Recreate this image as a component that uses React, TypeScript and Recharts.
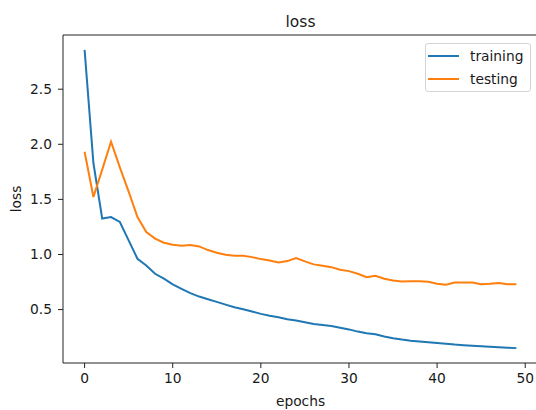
import { LineChart, Line, XAxis, YAxis, Legend, ReferenceLine } from "recharts";

const epochs = [
  0, 1, 2, 3, 4, 5, 6, 7, 8, 9, 10, 11, 12, 13, 14, 15, 16, 17, 18, 19, 20, 21, 22, 23, 24,
  25, 26, 27, 28, 29, 30, 31, 32, 33, 34, 35, 36, 37, 38, 39, 40, 41, 42, 43, 44, 45, 46, 47, 48, 49,
];

const training = [
  2.857, 1.83, 1.326, 1.34, 1.295, 1.128, 0.961, 0.9, 0.825, 0.78,
  0.728, 0.688, 0.649, 0.618, 0.594, 0.57, 0.545, 0.521, 0.503, 0.482,
  0.461, 0.443, 0.43, 0.412, 0.4, 0.385, 0.37, 0.36, 0.35, 0.335,
  0.32, 0.3, 0.285, 0.275, 0.255, 0.24, 0.228, 0.218, 0.21, 0.203,
  0.197, 0.19, 0.182, 0.177, 0.172, 0.168, 0.163, 0.158, 0.154, 0.15,
];

const testing = [
  1.932, 1.522, 1.77, 2.023, 1.79, 1.57, 1.34, 1.204, 1.144, 1.107,
  1.089, 1.08, 1.085, 1.073, 1.04, 1.016, 0.998, 0.989, 0.989, 0.976,
  0.958, 0.946, 0.928, 0.94, 0.967, 0.937, 0.91, 0.898, 0.885, 0.861,
  0.849, 0.825, 0.794, 0.807, 0.78, 0.764, 0.755, 0.758, 0.758, 0.752,
  0.734, 0.725, 0.746, 0.746, 0.746, 0.73, 0.734, 0.74, 0.73, 0.73,
];

const seriesNames = ["training", "testing"];
const xTicks = [0, 10, 20, 30, 40, 50];
const yTicks = [0.5, 1.0, 1.5, 2.0, 2.5];
const xDomain = [-2.45, 51.45];
const yDomain = [0.015, 2.992];

const FONT = "'DejaVu Sans', sans-serif";
const TEXT = "#1a1a1a";
const BLUE = "#1f77b4";
const ORANGE = "#ff7f0e";

const data = epochs.map((e, i) => ({
  epoch: e,
  training: training[i],
  testing: testing[i],
}));

function LegendBox(props: any) {
  // keep matplotlib's plotting order instead of recharts' alphabetical sort
  const items = [...(props.payload || [])].sort(
    (a: any, b: any) => seriesNames.indexOf(a.value) - seriesNames.indexOf(b.value)
  );
  return (
    <div
      style={{
        boxSizing: "border-box",
        width: 106,
        height: 49,
        border: "1px solid #d4d4d4",
        borderRadius: 3,
        background: "rgba(255,255,255,0.8)",
        fontFamily: FONT,
        fontSize: 13.8,
        color: TEXT,
        paddingLeft: 2,
      }}
    >
      {items.map((it: any) => (
        <div
          key={it.value}
          style={{ display: "flex", alignItems: "center", height: 23.4 }}
        >
          <span
            style={{
              display: "inline-block",
              width: 31,
              height: 2,
              background: it.color,
              marginRight: 11,
            }}
          />
          <span>{it.value}</span>
        </div>
      ))}
    </div>
  );
}

export default function App() {
  const tickStyle = { fill: TEXT, fontSize: 13.8, fontFamily: FONT };
  return (
    <div
      style={{
        position: "absolute",
        left: 0,
        top: 0,
        width: 536,
        height: 410,
        overflow: "hidden",
        background: "#fff",
      }}
    >
      <div
        style={{
          position: "absolute",
          left: 0,
          top: 12.5,
          width: 601,
          textAlign: "center",
          fontFamily: FONT,
          fontSize: 15.5,
          color: TEXT,
          zIndex: 2,
        }}
      >
        loss
      </div>
      <LineChart
        width={560}
        height={410}
        data={data}
        margin={{ top: 35, right: 22, bottom: 0, left: 0 }}
      >
        <XAxis
          dataKey="epoch"
          type="number"
          domain={xDomain}
          allowDataOverflow
          ticks={xTicks}
          height={47}
          tickSize={5}
          tickMargin={5}
          tick={tickStyle}
          stroke="#222"
          label={{
            value: "epochs",
            position: "insideBottom",
            offset: 4,
            fill: TEXT,
            fontSize: 13.8,
            fontFamily: FONT,
          }}
        />
        <YAxis
          type="number"
          domain={yDomain}
          allowDataOverflow
          ticks={yTicks}
          width={63}
          tickSize={5}
          tickMargin={6}
          tick={tickStyle}
          tickFormatter={(v: number) => v.toFixed(1)}
          stroke="#222"
          label={{
            value: "loss",
            angle: -90,
            position: "center",
            dx: -15,
            fill: TEXT,
            fontSize: 13.8,
            fontFamily: FONT,
          }}
        />
        <ReferenceLine y={yDomain[1]} stroke="#222" />
        <ReferenceLine x={xDomain[1]} stroke="#222" />
        <Line
          type="linear"
          dataKey="training"
          name="training"
          stroke={BLUE}
          strokeWidth={2}
          dot={false}
          activeDot={false}
          isAnimationActive={false}
        />
        <Line
          type="linear"
          dataKey="testing"
          name="testing"
          stroke={ORANGE}
          strokeWidth={2}
          dot={false}
          activeDot={false}
          isAnimationActive={false}
        />
        <Legend
          layout="horizontal"
          verticalAlign="middle"
          align="center"
          wrapperStyle={{ top: 43, left: 425, width: 106, height: 49 }}
          content={LegendBox}
        />
      </LineChart>
    </div>
  );
}
